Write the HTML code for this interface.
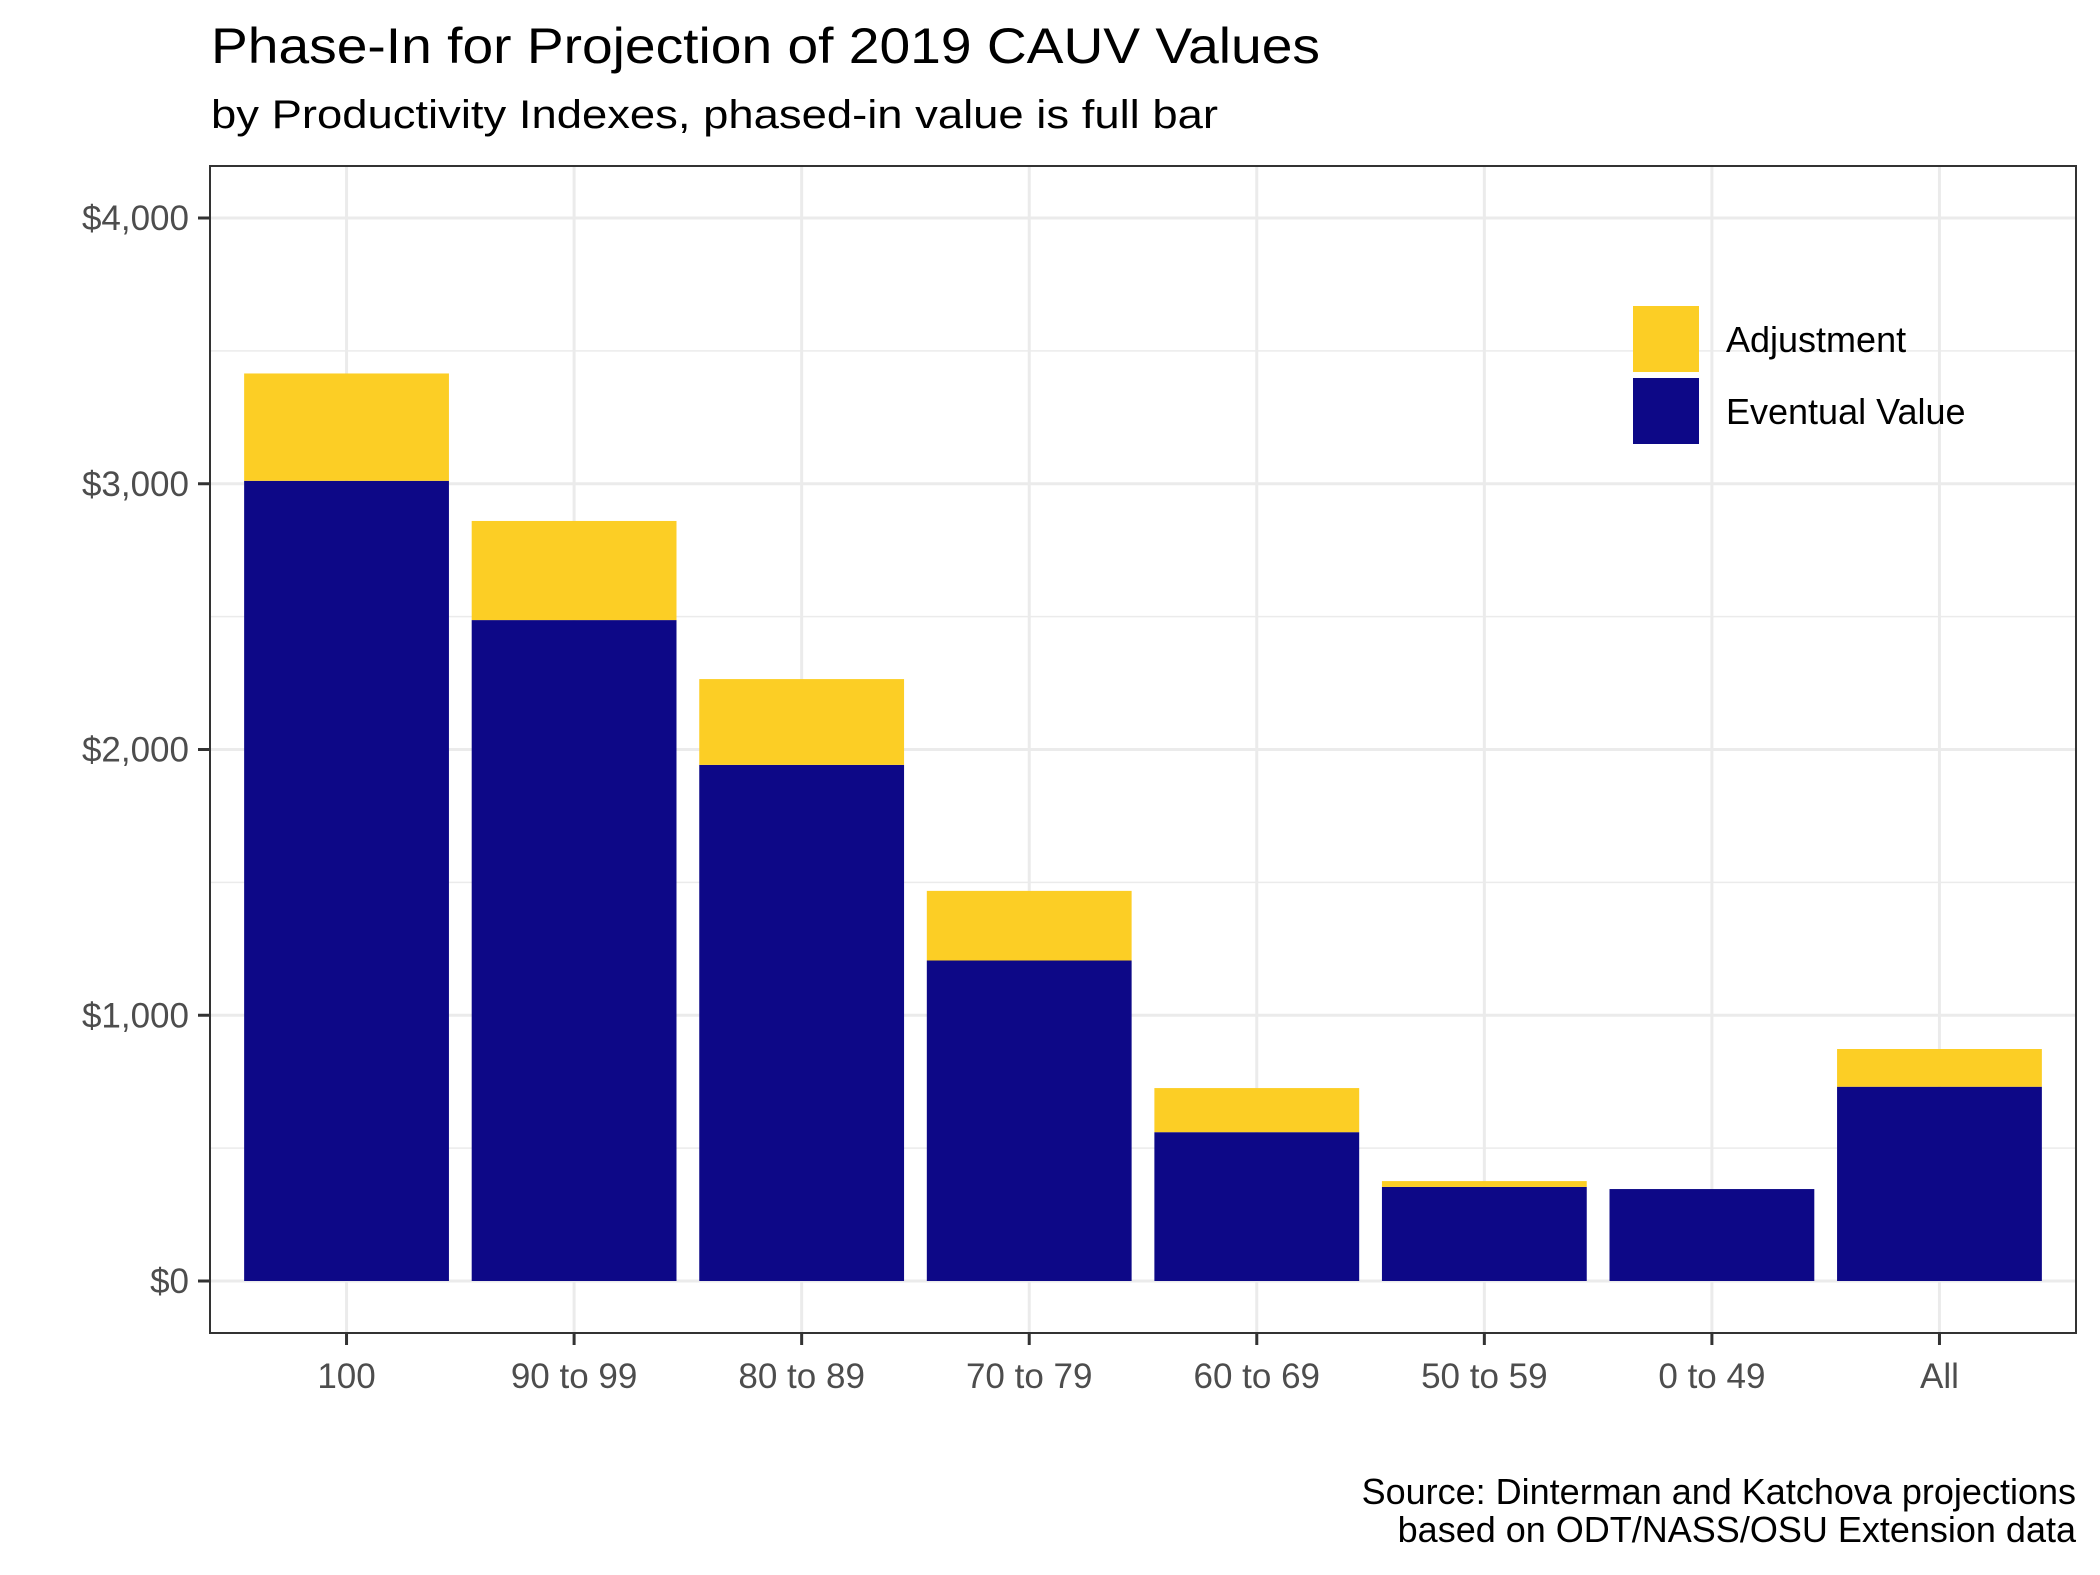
<!DOCTYPE html>
<html><head><meta charset="utf-8"><style>html,body{margin:0;padding:0;background:#fff}svg{display:block}</style></head>
<body>
<svg id="chart" width="2100" height="1575" viewBox="0 0 2100 1575" xmlns="http://www.w3.org/2000/svg" font-family="Liberation Sans, Arial, sans-serif">
<rect width="2100" height="1575" fill="#fff"/>
<text x="211" y="63" font-size="50" fill="#000" textLength="1109" lengthAdjust="spacingAndGlyphs">Phase-In for Projection of 2019 CAUV Values</text>
<text x="211" y="128" font-size="40" fill="#000" textLength="1007" lengthAdjust="spacingAndGlyphs">by Productivity Indexes, phased-in value is full bar</text>
<g id="grid"></g>
<g id="bars"></g>
<rect x="210" y="166" width="1866" height="1167" fill="none" stroke="#333" stroke-width="2"/>
<g id="axes"></g>
<g>
<rect x="1633" y="306" width="66" height="66" fill="#FCCE25"/>
<text x="1726" y="352" font-size="36" fill="#000">Adjustment</text>
<rect x="1633" y="378" width="66" height="66" fill="#0D0887"/>
<text x="1726" y="424" font-size="36" fill="#000">Eventual Value</text>
</g>
<text x="2076" y="1504" font-size="36" fill="#000" text-anchor="end">Source: Dinterman and Katchova projections</text>
<text x="2076" y="1542" font-size="36" fill="#000" text-anchor="end">based on ODT/NASS/OSU Extension data</text>
</svg>
<script>
const categories = ["100","90 to 99","80 to 89","70 to 79","60 to 69","50 to 59","0 to 49","All"];
const eventualValues = [3011,2487,1942,1206,560,354,346,731];
const adjustmentValues = [404,373,323,262,166,22,0,142];
const yTicks = [0,1000,2000,3000,4000];
const yTickLabels = ["$0","$1,000","$2,000","$3,000","$4,000"];
const yMinor = [500,1500,2500,3500];

const NS = "http://www.w3.org/2000/svg";
const PL = 210, PR = 2076, PT = 166, PB = 1333;
const Y0 = 1281, PXPER = 265.75/1000;
function yScale(v){ return Y0 - v*PXPER; }
const unit = (PR-PL)/(categories.length + 0.2);
function xScale(i){ return PL + (0.6 + i)*unit; }
const bw = 0.9*unit;
function mk(tag, attrs, parent){ const e=document.createElementNS(NS,tag); for(const k in attrs) e.setAttribute(k,attrs[k]); parent.appendChild(e); return e; }
const grid=document.getElementById('grid'), bars=document.getElementById('bars'), axes=document.getElementById('axes');
yMinor.forEach(v=>{ const l=mk('line',{x1:PL,x2:PR,y1:yScale(v),y2:yScale(v),stroke:'#ebebeb','stroke-width':1.5},grid);

 });
yTicks.forEach((v,i)=>{ const y=yScale(v);
const l=mk('line',{x1:PL,x2:PR,y1:y,y2:y,stroke:'#ebebeb','stroke-width':3},grid);


const t=mk('line',{x1:198,x2:210,y1:y,y2:y,stroke:'#333','stroke-width':3},axes);


const tx=mk('text',{x:189,y:y+12,'font-size':35,fill:'#4d4d4d','text-anchor':'end'},axes);
tx.textContent=yTickLabels[i];

 });
categories.forEach((c,i)=>{ const x=xScale(i);
const g=mk('line',{x1:x,x2:x,y1:PT,y2:PB,stroke:'#ebebeb','stroke-width':3},grid);


const ev=eventualValues[i], ad=adjustmentValues[i];
const b1=mk('rect',{x:x-bw/2,y:yScale(ev),width:bw,height:yScale(0)-yScale(ev),fill:'#0D0887'},bars);


if(ad>0){ const b2=mk('rect',{x:x-bw/2,y:yScale(ev+ad),width:bw,height:yScale(ev)-yScale(ev+ad),fill:'#FCCE25'},bars);

 }
const t=mk('line',{x1:x,x2:x,y1:PB,y2:PB+12,stroke:'#333','stroke-width':3},axes);


const tx=mk('text',{x:x,y:1388,'font-size':35,fill:'#4d4d4d','text-anchor':'middle'},axes);
tx.textContent=c;

 });
</script>
</body></html>
